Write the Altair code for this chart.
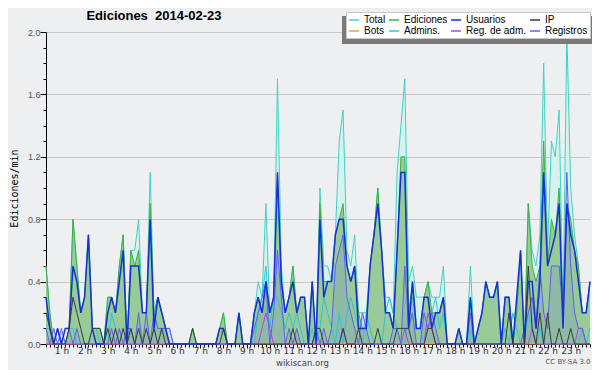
import altair as alt
import pandas as pd

series_names = ["Total", "Ediciones", "Usuarios", "IP", "Bots", "Admins.", "Reg. de adm.", "Registros"]
series_colors = ["#3fd3c3", "#3cb043", "#1530d8", "#3a3a3a", "#f0a030", "#2cc4dc", "#c040e0", "#6060f0"]
chart_title = "Ediciones\u00a0 2014-02-23"
credit_text = "CC BY-SA 3.0"

# one sample every 10 minutes, from 00:20 to 23:50 (hours)
times = [(i + 2) / 6 for i in range(142)]

total = [0.5,0.2,0,0,0,0,
 0.1,0.8,0.5,0.2,0.3,0.7,
 0.1,0.1,0.1,0,0.3,0.3,
 0.2,0.5,0.7,0,0.6,0.6,
 0.8,0.2,0.2,1.1,0.2,0.3,
 0.2,0.1,0,0,0,0,
 0,0,0.1,0,0,0,
 0,0,0,0.1,0.2,0,
 0,0,0.2,0,0,0,
 0.2,0.4,0.3,0.9,0.2,0.3,
 1.7,0.5,0.2,0.3,0.5,0.2,
 0.3,0.3,0,0.4,0,1.0,
 0.5,0.5,0.4,0.7,1.3,1.5,
 0.6,0.5,0.7,0.2,0.2,0.2,
 0.5,0.7,1.0,0.6,0.3,0.3,
 0.2,1.1,1.4,1.7,0.4,0.5,
 0.3,0.3,0.3,0.4,0.3,0.3,
 0.3,0.5,0,0,0,0.1,
 0,0,0.5,0,0.1,0.2,
 0.4,0.3,0.3,0.4,0,0.3,
 0.3,0,0.2,0.6,0,0.9,
 0.6,0.5,0.7,1.8,0.6,1.3,
 1.2,1.5,0.2,2.0,1.0,0.7,
 0.5,0.2,0.2,0.4]

ediciones = [0.5,0.2,0,0,0,0,
 0.1,0.8,0.5,0.2,0.3,0.7,
 0.1,0.1,0.1,0,0.3,0.3,
 0.2,0.5,0.7,0,0.6,0.5,
 0.6,0.2,0.2,0.9,0.2,0.3,
 0.2,0.1,0,0,0,0,
 0,0,0.1,0,0,0,
 0,0,0,0.1,0.2,0,
 0,0,0.2,0,0,0,
 0.2,0.3,0.2,0.4,0.2,0.3,
 1.1,0.4,0.2,0.3,0.5,0.2,
 0.3,0.3,0,0.4,0,0.9,
 0.4,0.4,0.4,0.7,0.8,0.9,
 0.5,0.4,0.5,0.2,0.1,0.1,
 0.5,0.7,1.0,0.6,0.2,0.2,
 0.1,0.6,1.2,1.2,0.2,0.4,
 0.1,0.1,0.3,0.4,0.2,0.2,
 0.2,0.3,0,0,0,0.1,
 0,0,0.3,0,0.1,0.2,
 0.4,0.3,0.3,0.4,0,0.3,
 0.3,0,0.2,0.6,0,0.9,
 0.5,0.4,0.5,1.3,0.5,0.8,
 0.7,1.0,0.2,0.9,0.8,0.6,
 0.5,0.2,0.2,0.4]

usuarios = [0.3,0.1,0,0.1,0,0.1,
 0.1,0.5,0.4,0.2,0.3,0.7,
 0.1,0,0,0,0.2,0.3,
 0.2,0.4,0.6,0,0.5,0.5,
 0.5,0.2,0.2,0.8,0.1,0.3,
 0.2,0.1,0,0,0,0,
 0,0,0,0,0,0,
 0,0,0,0.1,0.1,0,
 0,0,0.2,0,0,0,
 0.2,0.3,0.2,0.4,0.2,0.3,
 1.1,0.4,0.2,0.3,0.4,0.2,
 0.3,0.3,0,0.4,0,0.8,
 0.3,0.4,0.4,0.7,0.8,0.8,
 0.5,0.4,0.5,0.1,0.1,0.1,
 0.5,0.7,0.9,0.6,0.2,0.2,
 0.1,0.6,1.1,1.1,0.1,0.4,
 0.1,0.1,0.3,0.3,0.1,0.2,
 0.2,0.3,0,0,0,0.1,
 0,0,0.3,0,0.1,0.2,
 0.4,0.3,0.3,0.4,0,0.3,
 0.3,0,0.3,0.6,0,0.4,
 0.4,0.1,0.4,1.1,0.5,0.6,
 0.7,0.9,0.1,0.9,0.7,0.6,
 0.4,0.2,0.2,0.4]

ip = [0.2,0.1,0,0,0,0,
 0.1,0.3,0.2,0.1,0,0,
 0.1,0.1,0.1,0,0.1,0,
 0.1,0,0.1,0,0.1,0,
 0.1,0,0.1,0,0.1,0,
 0.1,0,0,0,0,0,
 0,0,0.1,0,0,0,
 0,0,0,0,0.1,0,
 0,0,0,0,0,0,
 0,0,0,0,0,0,
 0,0,0,0,0.1,0,
 0,0,0,0,0.1,0.1,
 0,0,0,0,0,0.1,
 0,0,0,0.1,0,0,
 0,0,0.1,0,0,0,
 0,0.1,0.1,0.1,0.1,0,
 0,0,0,0.1,0.1,0,
 0,0,0,0,0,0,
 0,0,0,0,0,0,
 0,0,0,0,0,0,
 0.2,0,0,0,0,0.5,
 0.1,0,0.2,0,0.2,0,
 0,0.1,0,0,0.1,0,
 0,0,0,0]

bots = [0,0,0,0,0,0, 0,0,0,0,0,0, 0,0,0,0,0,0, 0,0,0,0,0,0,
 0,0,0,0,0,0, 0,0,0,0,0,0, 0,0,0,0,0,0, 0,0,0,0,0,0,
 0,0,0,0,0,0, 0,0,0,0,0,0, 0,0,0,0,0,0, 0,0,0,0,0,0,
 0,0,0,0,0,0, 0,0,0,0,0,0, 0,0,0,0,0,0, 0,0,0,0,0,0,
 0,0,0,0,0,0, 0,0,0,0,0,0, 0,0,0,0,0,0, 0,0,0,0,0,0,
 0,0,0,0,0,0, 0,0,0,0,0,0, 0,0,0,0,0,0, 0,0,0,0]

admins = [0.1,0.1,0,0.1,0,0,
 0.1,0.1,0,0,0,0,
 0.1,0.1,0,0,0,0.2,
 0.1,0,0,0,0,0,
 0,0,0,0,0,0,
 0.1,0.1,0.1,0,0,0,
 0,0,0,0,0,0,
 0,0,0,0,0,0,
 0,0,0,0,0,0,
 0,0.2,0.3,0.5,0.1,0.3,
 0.3,0.2,0.1,0.2,0.1,0.2,
 0.1,0,0,0.1,0,0.1,
 0.3,0.2,0.1,0,0.2,0,
 0.2,0.3,0.2,0.1,0,0.2,
 0.1,0,0,0,0.2,0.3,
 0.2,0.1,0,0,0.2,0.3,
 0.1,0.1,0,0.1,0.2,0.3,
 0.1,0.2,0,0,0,0,
 0,0,0.1,0,0,0,
 0,0,0,0,0,0.1,
 0,0.2,0.1,0,0,0.2,
 0.1,0,0.1,0,0,0,
 0,0,0,0,0,0,
 0,0.1,0,0.1]

reg_adm = [0,0,0,0,0,0, 0,0,0,0,0,0, 0,0,0,0,0,0, 0,0,0,0,0,0,
 0,0,0,0,0,0, 0,0,0,0,0,0, 0,0,0,0,0,0, 0,0,0,0,0,0,
 0,0,0,0,0,0, 0,0,0.1,0.2,0.1,0, 0,0,0,0,0,0, 0,0,0,0,0,0,
 0,0,0,0,0,0.1, 0,0,0,0,0,0, 0,0,0,0,0,0, 0,0,0,0.1,0,0,
 0,0,0,0.2,0.1,0, 0,0,0,0,0,0, 0,0,0,0,0,0, 0,0,0,0,0,0,
 0,0,0,0,0,0, 0.1,0,0,0,0,0, 0,0,0,0,0,0, 0.1,0.1,0,0]

registros = [0.1,0,0.1,0,0.1,0,
 0.1,0,0.1,0,0,0,
 0,0,0,0,0,0.1,
 0,0.1,0,0.1,0.1,0,
 0.2,0,0.2,0,0.2,0.1,
 0.1,0.1,0.1,0,0,0,
 0,0,0,0,0,0,
 0,0,0,0,0,0,
 0,0,0,0,0,0,
 0.1,0.2,0.3,0.4,0,0.2,
 0.6,0.3,0,0.1,0,0.1,
 0,0,0,0,0.1,0,
 0.1,0,0.1,0.5,0.6,0.7,
 0.3,0.2,0.1,0,0.2,0.1,
 0,0,0,0,0,0,
 0.1,0.1,0,0.5,0.1,0.2,
 0,0,0.2,0.1,0.2,0.1,
 0,0,0,0,0,0,
 0,0,0.2,0,0,0,
 0,0,0,0,0,0,
 0,0,0,0,0.1,0.2,
 0.3,0.1,0.5,0.2,0.1,0.5,
 0.5,0.5,0.2,1.1,0.5,0.2,
 0.1,0.1,0,0]

y_ticks = [0.0, 0.1, 0.2, 0.3, 0.4, 0.5, 0.6, 0.7, 0.8, 0.9, 1.0,
           1.1, 1.2, 1.3, 1.4, 1.5, 1.6, 1.7, 1.8, 1.9, 2.0]

all_values = [total, ediciones, usuarios, ip, bots, admins, reg_adm, registros]
rows = []
for name, vals in zip(series_names, all_values):
    for t, v in zip(times, vals):
        rows.append({"t": t, "v": v, "series": name})
df = pd.DataFrame(rows)

major_test = "round(datum.value * 10) % 4 == 0"
hour_test = "abs(datum.value - round(datum.value)) < 0.001"

x_axis = alt.Axis(
    values=times,
    labelExpr=f"{hour_test} ? round(datum.value) + ' h' : ''",
    labelOverlap=False, labelFlush=False, labelBound=False,
    tickSize={"condition": {"test": hour_test, "value": 4}, "value": 3},
    tickColor="black", domainColor="black", tickWidth=1,
    labelFont="DejaVu Sans", labelFontSize=9, labelColor="#333333", labelPadding=-2,
    grid=False,
    title="wikiscan.org", titleFont="DejaVu Sans", titleFontSize=8.5,
    titleFontWeight="normal", titleColor="#444444",
    titleX=256, titleY=18, titleBaseline="middle",
)
y_axis = alt.Axis(
    values=y_ticks,
    labelExpr=f"{major_test} ? format(datum.value, '.1f') : ''",
    labelOverlap=False,
    tickSize={"condition": {"test": major_test, "value": 6}, "value": 3},
    tickColor="black", domainColor="black",
    labelFont="Liberation Sans", labelFontSize=9, labelColor="#555555", labelPadding=0,
    grid=True, gridColor={"condition": {"test": f"{major_test} && datum.value > 0", "value": "#c8c8c8"}, "value": "transparent"},
    title="Ediciones/min", titleFont="DejaVu Sans Mono", titleFontSize=10,
    titleFontWeight="normal", titleColor="black",
    titleAngle=270, titleX=-32, titleY=156, titleBaseline="middle",
)

x_enc = alt.X("t:Q", scale=alt.Scale(domain=[times[0], times[-1]], nice=False, zero=False), axis=x_axis)
y_enc = alt.Y("v:Q", scale=alt.Scale(domain=[0, 2.0], nice=False), axis=y_axis)

base = alt.Chart(df).encode(x=x_enc, y=y_enc)

color_scale = alt.Scale(domain=series_names, range=series_colors)
legend = alt.Legend(
    orient="none", legendX=300, legendY=-20, direction="horizontal", columns=4,
    title=None, symbolType="stroke", symbolSize=100, symbolStrokeWidth=1.5,
    labelFont="Liberation Sans", labelFontSize=10, labelColor="black",
    fillColor="white", strokeColor="#c8c8c8", padding=2,
    columnPadding=0, rowPadding=0, labelOffset=4, gridAlign="each",
)

def area(name, fill, opacity=1.0):
    return base.transform_filter(alt.datum.series == name).mark_area(
        color=fill, opacity=opacity, interpolate="linear")

def line(name, width=1.0):
    return base.transform_filter(alt.datum.series == name).mark_line(
        strokeWidth=width, interpolate="linear").encode(
        color=alt.Color("series:N", scale=color_scale, legend=legend))

shadow = alt.Chart(pd.DataFrame({"k": [0]})).mark_rect(color="#7a7a7a").encode(
    x=alt.value(296), x2=alt.value(546), y=alt.value(-16), y2=alt.value(12))

credit = alt.Chart(pd.DataFrame({"label": [credit_text]})).mark_text(
    font="DejaVu Sans", fontSize=7, color="#555555").encode(
    x=alt.value(522), y=alt.value(330), text="label:N")

title_mark = alt.Chart(pd.DataFrame({"label": [chart_title]})).mark_text(
    font="Liberation Sans", fontSize=13, fontWeight="bold", color="black",
    align="center", baseline="middle").encode(
    x=alt.value(108), y=alt.value(-16), text="label:N")

chart = alt.layer(
    area("Total", "#d6f2ee"),
    area("Ediciones", "#98cb98"),
    area("Registros", "#6060f0", 0.15),
    line("Bots"),
    line("Total"),
    line("Ediciones"),
    line("Admins."),
    line("Reg. de adm."),
    line("Registros"),
    line("Usuarios", 1.5),
    line("IP"),
    shadow,
    credit,
    title_mark,
).properties(
    width=544, height=312,
    autosize=alt.AutoSizeParams(type="none"),
    padding={"left": 38, "top": 24, "right": 2, "bottom": 26},
).configure(background="#eeeff1").configure_view(strokeWidth=0, fill="#eeeff1")

chart.save("out.html", embed_options={"renderer": "svg", "actions": False})
